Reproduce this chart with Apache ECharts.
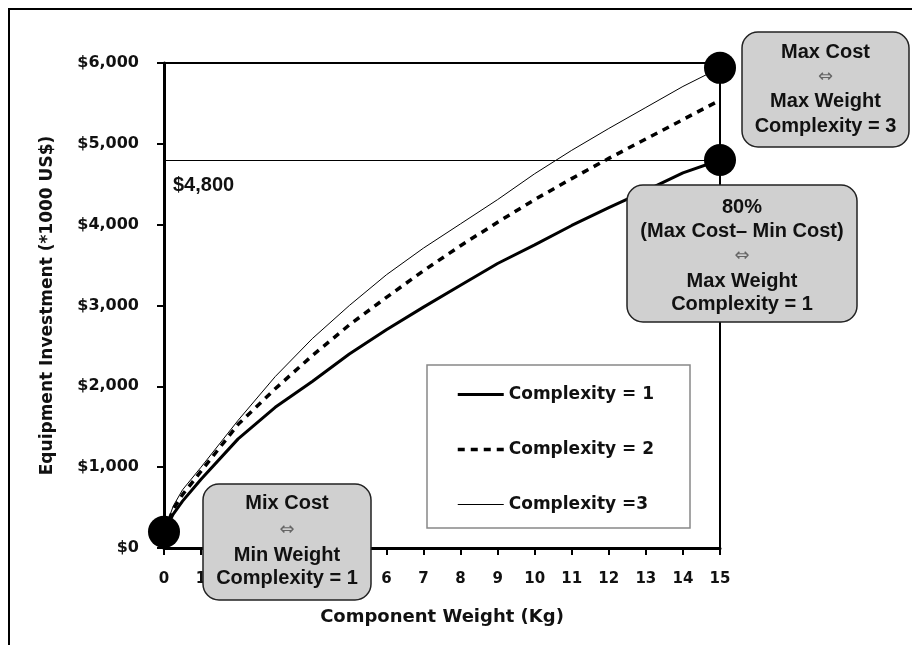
<!DOCTYPE html>
<html><head><meta charset="utf-8">
<script src="https://cdn.jsdelivr.net/npm/echarts@6/dist/echarts.min.js"></script>
<style>html,body{margin:0;padding:0;background:#fff}#c{width:912px;height:645px}</style>
</head><body><div id="c"></div>
<script>
// ---- data ----
const xValues     = [0, 0.25, 0.5, 1, 2, 3, 4, 5, 6, 7, 8, 9, 10, 11, 12, 13, 14, 15];
const complexity1 = [200, 420, 580, 850, 1350, 1740, 2060, 2400, 2700, 2980, 3250, 3520, 3750, 3990, 4210, 4420, 4640, 4800];
const complexity2 = [200, 480, 660, 950, 1530, 1970, 2380, 2760, 3100, 3430, 3740, 4030, 4310, 4570, 4820, 5060, 5300, 5540];
const complexity3 = [200, 520, 720, 1000, 1580, 2120, 2590, 3000, 3380, 3710, 4010, 4310, 4630, 4920, 5190, 5450, 5710, 5940];
const seriesNames = ['Complexity = 1', 'Complexity = 2', 'Complexity =3'];
const endpointX   = [0, 15, 15];
const endpointY   = [200, 4800, 5940];
const referenceLevel = 4800;
const xAxisTitle = 'Component Weight (Kg)';
const yAxisTitle = 'Equipment Investment (*1000 US$)';
const calloutMaxCost = ['Max Cost', '\u21D4', 'Max Weight', 'Complexity = 3'];
const callout80 = ['80%', '(Max Cost\u2013 Min Cost)', '\u21D4', 'Max Weight', 'Complexity = 1'];
const calloutMin = ['Mix Cost', '\u21D4', 'Min Weight', 'Complexity = 1'];

const pairs = (ys) => xValues.map((x, i) => [x, ys[i]]);
const money = (v) => '$' + Number(v).toLocaleString('en-US');

const chart = echarts.init(document.getElementById('c'), null, {renderer: 'canvas'});

const lineStyles = [
  {color: '#000', width: 3, type: 'solid'},
  {color: '#000', width: 3.5, type: [7, 6]},
  {color: '#000', width: 1, type: 'solid'}
];

function callout(left, top, w, h, lines, ys) {
  const cx = left + w / 2;
  const children = [{
    type: 'rect', zlevel: 1, z: 100,
    shape: {x: left, y: top, width: w, height: h, r: 16},
    style: {fill: '#d0d0d0', stroke: '#222', lineWidth: 1.5}
  }];
  lines.forEach((t, i) => {
    const isArrow = t === '\u21D4';
    children.push({
      type: 'text', zlevel: 1, z: 101,
      style: {
        text: t, x: cx, y: ys[i], textAlign: 'center', textVerticalAlign: 'middle',
        fontFamily: isArrow ? 'DejaVu Sans' : 'Liberation Sans',
        fontWeight: isArrow ? 'normal' : 'bold',
        fontSize: isArrow ? 18 : 20,
        fill: isArrow ? '#666' : '#111'
      }
    });
  });
  return {type: 'group', zlevel: 1, z: 100, children};
}

const option = {
  animation: false,
  backgroundColor: '#fff',
  grid: {left: 164, right: 192, top: 63, bottom: 97, show: true, borderColor: '#000', borderWidth: 2, containLabel: false},
  xAxis: {
    type: 'value', min: 0, max: 15, interval: 1,
    name: xAxisTitle, nameLocation: 'middle', nameGap: 60,
    nameTextStyle: {fontFamily: 'DejaVu Sans', fontWeight: 'bold', fontSize: 18, color: '#111'},
    axisLine: {show: true, onZero: false, lineStyle: {color: '#000', width: 3}},
    axisTick: {show: true, length: 7, lineStyle: {color: '#000', width: 2}},
    axisLabel: {margin: 24, fontFamily: 'DejaVu Sans', fontWeight: 'bold', fontSize: 15, color: '#111'},
    splitLine: {show: false}
  },
  yAxis: {
    type: 'value', min: 0, max: 6000, interval: 1000,
    name: yAxisTitle, nameLocation: 'middle', nameGap: 108, nameRotate: 90,
    nameTextStyle: {fontFamily: 'DejaVu Sans', fontWeight: 'bold', fontSize: 17, color: '#111'},
    axisLine: {show: true, onZero: false, lineStyle: {color: '#000', width: 3}},
    axisTick: {show: true, length: 7, lineStyle: {color: '#000', width: 2}},
    axisLabel: {margin: 25, formatter: money, fontFamily: 'DejaVu Sans', fontWeight: 'bold', fontSize: 16, color: '#111'},
    splitLine: {show: false}
  },
  legend: {
    data: seriesNames.map((n, i) => ({name: n, lineStyle: lineStyles[i]})),
    orient: 'vertical', left: 456, top: 386, padding: 0,
    itemWidth: 46, itemHeight: 14, itemGap: 38,
    itemStyle: {opacity: 0},
    textStyle: {fontFamily: 'DejaVu Sans', fontWeight: 'bold', fontSize: 17, color: '#111'},
    selectedMode: false
  },
  series: [
    {
      name: seriesNames[0], type: 'line', data: pairs(complexity1), showSymbol: false, symbol: 'none',
      lineStyle: lineStyles[0], itemStyle: {color: '#000'}, z: 3,
      markLine: {
        silent: true, symbol: 'none',
        data: [{yAxis: referenceLevel}],
        lineStyle: {color: '#000', width: 1, type: 'solid'},
        label: {show: true, position: 'insideStartBottom', distance: [9, 15], formatter: () => money(referenceLevel),
                fontFamily: 'Liberation Sans', fontWeight: 'bold', fontSize: 20, color: '#111'}
      }
    },
    {
      name: seriesNames[1], type: 'line', data: pairs(complexity2), showSymbol: false, symbol: 'none',
      lineStyle: lineStyles[1], itemStyle: {color: '#000'}, z: 3
    },
    {
      name: seriesNames[2], type: 'line', data: pairs(complexity3), showSymbol: false, symbol: 'none',
      lineStyle: lineStyles[2], itemStyle: {color: '#000'}, z: 3
    },
    {
      name: 'endpoints', type: 'scatter', data: endpointX.map((x, i) => [x, endpointY[i]]),
      symbol: 'circle', symbolSize: 32, itemStyle: {color: '#000', opacity: 1}, z: 5, silent: true
    }
  ],
  graphic: [
    {type: 'rect', z: 0, shape: {x: 9, y: 9, width: 1000, height: 1000}, style: {fill: 'none', stroke: '#000', lineWidth: 2}},
    {type: 'rect', z: 1, shape: {x: 427, y: 365, width: 263, height: 163}, style: {fill: '#fff', stroke: '#888', lineWidth: 1.5}},
    callout(742, 32, 167, 115, calloutMaxCost, [52, 77, 101, 126]),
    callout(627, 185, 230, 137, callout80, [207, 231, 256, 281, 304]),
    callout(203, 484, 168, 116, calloutMin, [503, 530, 555, 578])
  ]
};
chart.setOption(option);
</script></body></html>
